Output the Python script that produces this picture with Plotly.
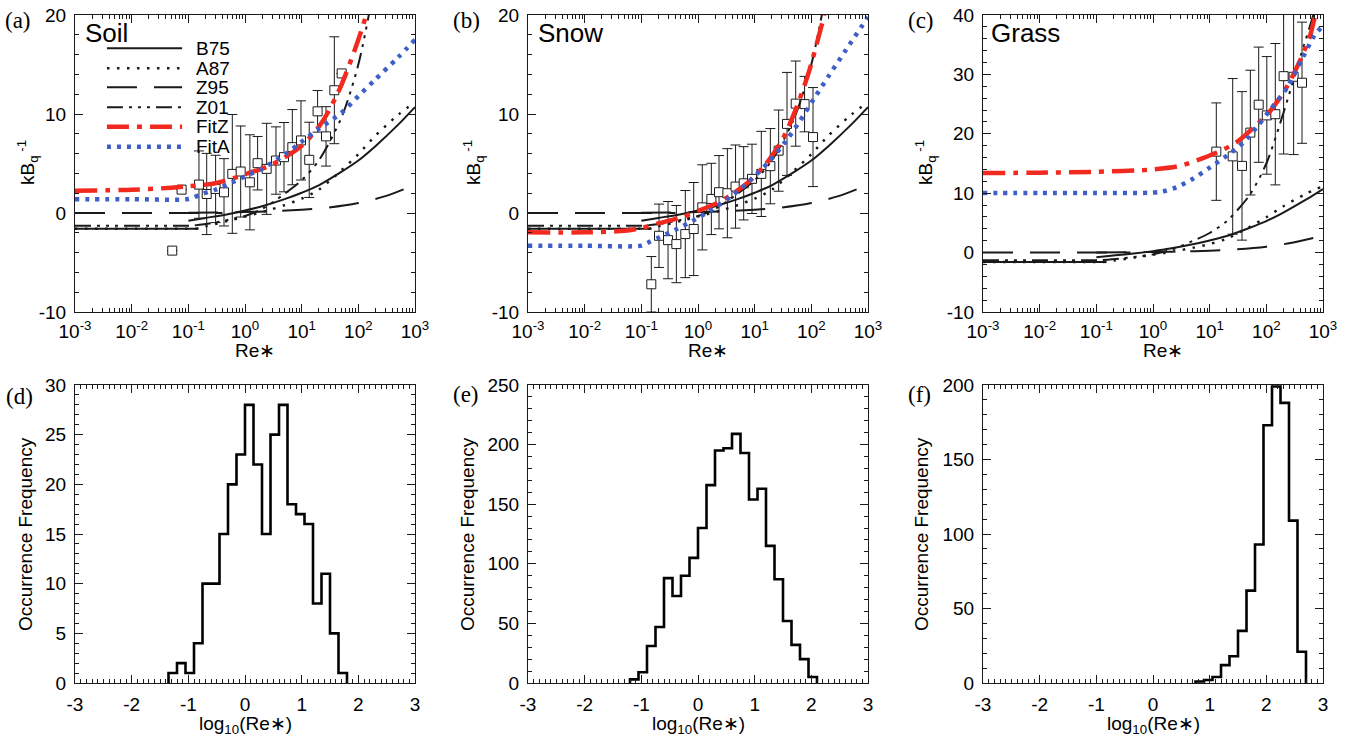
import numpy as np
import plotly.graph_objects as go

W, H = 1352, 737
FONT = "Liberation Sans, Arial, Helvetica, sans-serif"
SERIF = "Liberation Serif, Times New Roman, serif"
INK = "#1a1a1a"
RED = "#f2291f"
BLUE = "#3f5fc8"

# ---------------- model curves (independent of surface type) ----------------
# each model: smooth-regime branch + rough-regime branch, kB^-1 vs Re*
b75_smooth_re = [0.001, 0.15]
b75_smooth = [-1.6, -1.6]
b75_re = [0.1, 0.2, 0.5, 1, 2, 5, 10, 20, 50, 100, 200, 500, 1000]
b75 = [-0.78, -0.5, -0.12, 0.25, 0.68, 1.4, 2.05, 2.8, 4.15, 5.3, 6.75, 8.9, 10.7]

a87_smooth_re = [0.001, 0.135]
a87_smooth = [-1.6, -1.6]
a87_re = [0.135, 0.2, 0.5, 1, 2.5, 5, 10, 20, 50, 100, 200, 500, 1000]
a87 = [-1.6, -1.35, -0.8, -0.35, 0.25, 0.8, 1.45, 2.35, 4.3, 5.95, 7.8, 9.9, 11.2]

z95_smooth_re = [0.001, 0.4]
z95_smooth = [0.0, 0.0]
z95_re = [0.1, 0.3, 1, 3, 10, 30, 100, 300, 1000]
z95 = [0.03, 0.05, 0.1, 0.18, 0.33, 0.55, 1.0, 1.7, 2.85]

z01_smooth_re = [0.001, 0.13]
z01_smooth = [-1.3, -1.3]
z01_re = [0.13, 0.3, 0.6, 1, 2, 3.5, 5, 10, 20, 50, 100, 200, 400, 700, 1000]
z01 = [-1.25, -0.95, -0.6, -0.3, 0.4, 1.3, 1.95, 3.3, 5.3, 9.6, 15.0, 23.5, 33.0, 40.5, 46.0]

model_names = ["B75", "A87", "Z95", "Z01", "FitZ", "FitA"]

# ---------------- fitted curves per surface ----------------
fitz_soil_re = [0.001, 0.01, 0.05, 0.1, 0.3, 1, 3, 10, 20, 30, 50, 100, 150]
fitz_soil = [2.25, 2.35, 2.55, 2.7, 3.0, 3.9, 4.9, 6.8, 8.7, 10.3, 12.9, 17.5, 20.7]
fita_soil_re = [0.001, 0.01, 0.1, 0.17, 0.3, 0.6, 1, 2, 5, 10, 20, 50, 100, 200, 500, 1000]
fita_soil = [1.4, 1.4, 1.42, 1.9, 2.35, 3.1, 3.7, 4.5, 5.9, 7.2, 8.5, 10.1, 11.8, 13.5, 15.7, 17.5]

fitz_snow_re = [0.001, 0.01, 0.05, 0.1, 0.2, 0.5, 1, 2, 4, 8, 16, 32, 55, 90, 130, 170]
fitz_snow = [-1.95, -1.95, -1.8, -1.5, -1.05, -0.45, 0.2, 0.9, 1.9, 3.2, 5.0, 7.6, 10.7, 14.2, 17.5, 20.0]
fita_snow_re = [0.001, 0.01, 0.1, 0.13, 0.2, 0.4, 0.8, 1.6, 3.7, 8, 18, 36, 63, 110, 200, 400, 1000]
fita_snow = [-3.3, -3.3, -3.3, -3.0, -2.5, -1.7, -0.8, 0.2, 1.6, 3.2, 5.2, 7.3, 9.3, 11.5, 13.8, 16.4, 19.8]

fitz_grass_re = [0.001, 0.01, 0.1, 1, 3, 13, 30, 67, 116, 230, 400, 590, 700, 1000]
fitz_grass = [13.4, 13.45, 13.6, 14.0, 14.6, 16.8, 18.6, 21.5, 23.8, 27.9, 32.5, 36.5, 39.2, 44.0]
fita_grass_re = [0.001, 0.01, 0.1, 1, 1.5, 2.6, 5, 10, 20, 40, 70, 116, 230, 450, 700, 1000]
fita_grass = [10.05, 10.05, 10.05, 10.1, 10.3, 11.0, 12.4, 14.3, 16.3, 18.6, 21.3, 24.0, 27.7, 33.0, 36.5, 38.2]

# ---------------- bin-averaged observations (mean +/- std) ----------------
obs_soil_re = [0.052, 0.076, 0.154, 0.211, 0.303, 0.426, 0.597, 0.839, 1.22, 1.67,
               2.41, 3.52, 4.88, 6.84, 9.72, 13.6, 19.1, 26.9, 37.7, 50.8]
obs_soil = [-3.8, 2.36, 2.87, 1.92, 2.43, 2.09, 3.95, 4.19, 3.1, 5.03,
            4.46, 5.3, 5.64, 6.65, 7.33, 5.37, 10.27, 7.74, 12.4, 14.1]
obs_soil_sd = [0, 0, 3.4, 4.1, 3.4, 3.4, 6.0, 4.6, 4.8, 2.7,
               4.6, 3.4, 3.5, 3.8, 4.0, 3.8, 2.1, 3.0, 5.4, 0]

obs_snow_re = [0.15, 0.205, 0.296, 0.415, 0.597, 0.84, 1.19, 1.72, 2.35, 3.3,
               4.6, 6.4, 8.97, 13.1, 18.9, 26.5, 37.2, 53, 76, 107]
obs_snow = [-7.2, -2.3, -2.74, -3.14, -2.13, -1.62, 0.57, 1.42, 2.1, 2.0,
            2.67, 3.0, 3.45, 3.95, 4.73, 6.3, 9.0, 11.05, 11.0, 7.67]
obs_snow_sd = [2.8, 3.2, 3.9, 3.9, 4.4, 4.7, 4.3, 3.6, 3.7, 4.5,
               4.2, 3.7, 3.5, 4.3, 3.8, 4.1, 5.2, 4.3, 2.8, 5.0]

obs_grass_re = [13.1, 25.5, 37.2, 52.2, 73.3, 102, 144, 202, 303, 426]
obs_grass = [17.0, 16.2, 14.6, 20.2, 24.9, 23.1, 23.3, 29.7, 29.6, 28.6]
obs_grass_sd = [8.2, 13.1, 12.5, 10.5, 9.7, 9.9, 11.9, 13.1, 13.1, 10.2]

# ---------------- Re* histograms (bins of 0.15 in log10 Re*) ----------------
BIN_W = 0.15
hist_soil_start = -1.35
hist_soil = [1, 2, 1, 4, 10, 10, 15, 20, 23, 28, 22, 15, 25, 28, 18, 17, 16, 8, 11, 5, 1]
hist_snow_start = -1.2
hist_snow = [3, 9, 31, 47, 88, 73, 90, 105, 130, 166, 195, 197, 209, 193, 154, 163,
             115, 87, 52, 32, 20, 5]
hist_grass_start = 0.75
hist_grass = [1, 2, 4, 12, 18, 35, 62, 93, 173, 199, 188, 109, 21]

# ---------------- figure ----------------
fig = go.Figure()

black_styles = {
    "B75": dict(color=INK, width=2, dash="solid"),
    "A87": dict(color=INK, width=2.5, dash="2.5px,7.5px"),
    "Z95": dict(color=INK, width=2, dash="30px,17px"),
    "Z01": dict(color=INK, width=2, dash="16px,6px,3px,6px,3px,6px,3px,6px"),
}
fitz_style = dict(color=RED, width=4.5, dash="22px,8px,5px,8px")
fita_style = dict(color=BLUE, width=4.5, dash="4px,6px")

black_models = {
    "B75": (b75_smooth_re, b75_smooth, b75_re, b75),
    "A87": (a87_smooth_re, a87_smooth, a87_re, a87),
    "Z95": (z95_smooth_re, z95_smooth, z95_re, z95),
    "Z01": (z01_smooth_re, z01_smooth, z01_re, z01),
}

surfaces = [
    ("x", "y", obs_soil_re, obs_soil, obs_soil_sd, fitz_soil_re, fitz_soil, fita_soil_re, fita_soil),
    ("x2", "y2", obs_snow_re, obs_snow, obs_snow_sd, fitz_snow_re, fitz_snow, fita_snow_re, fita_snow),
    ("x3", "y3", obs_grass_re, obs_grass, obs_grass_sd, fitz_grass_re, fitz_grass, fita_grass_re, fita_grass),
]

for xa, ya, ore, ov, osd, zr, zv, ar, av in surfaces:
    fig.add_trace(go.Scatter(
        x=ore, y=ov, xaxis=xa, yaxis=ya, mode="markers",
        marker=dict(symbol="square", size=9, color="white", line=dict(color=INK, width=1)),
        error_y=dict(type="data", array=osd, visible=True, color=INK, thickness=1, width=5),
        hoverinfo="skip"))
    for name, (sr, sv, rr, rv) in black_models.items():
        st = black_styles[name]
        fig.add_trace(go.Scatter(x=sr, y=sv, xaxis=xa, yaxis=ya, mode="lines",
                                 line=dict(**st), name=name, hoverinfo="skip"))
        fig.add_trace(go.Scatter(x=rr, y=rv, xaxis=xa, yaxis=ya, mode="lines",
                                 line=dict(shape="spline", smoothing=0.8, **st),
                                 name=name, hoverinfo="skip"))
    fig.add_trace(go.Scatter(x=zr, y=zv, xaxis=xa, yaxis=ya, mode="lines",
                             line=dict(shape="spline", smoothing=0.8, **fitz_style),
                             name="FitZ", hoverinfo="skip"))
    fig.add_trace(go.Scatter(x=ar, y=av, xaxis=xa, yaxis=ya, mode="lines",
                             line=dict(shape="spline", smoothing=0.8, **fita_style),
                             name="FitA", hoverinfo="skip"))

hists = [("x4", "y4", hist_soil_start, hist_soil),
         ("x5", "y5", hist_snow_start, hist_snow),
         ("x6", "y6", hist_grass_start, hist_grass)]
for xa, ya, start, counts in hists:
    edges = np.round(start + BIN_W * np.arange(len(counts) + 1), 3)
    xs = np.concatenate([[edges[0]], edges[:-1], [edges[-1]]])
    ys = np.concatenate([[0], counts, [0]])
    fig.add_trace(go.Scatter(x=xs, y=ys, xaxis=xa, yaxis=ya, mode="lines",
                             line=dict(color="black", width=2.6, shape="hv"),
                             hoverinfo="skip"))

# ---------------- axes ----------------
def px(v):
    return v / W


def py(v):
    return 1 - v / H


cols = [(75, 415), (528, 868), (983, 1323)]
top_rows = (15, 312)
bot_rows = (385, 683)
TICK_SIZE = 19


def frame(**kw):
    d = dict(showline=True, linecolor=INK, linewidth=1, mirror="allticks",
             ticks="inside", ticklen=8, tickwidth=1, tickcolor=INK,
             showgrid=False, zeroline=False, fixedrange=True, automargin=False,
             tickfont=dict(family=FONT, size=TICK_SIZE, color="black"))
    d.update(kw)
    return d


def labels(vals):
    # plain hyphen-minus for negative tick labels
    return [str(v) for v in vals]


decades = [0.001, 0.01, 0.1, 1, 10, 100, 1000]
decade_text = ["10<sup>-3</sup>", "10<sup>-2</sup>", "10<sup>-1</sup>", "10<sup>0</sup>",
               "10<sup>1</sup>", "10<sup>2</sup>", "10<sup>3</sup>"]
log_minor = [m * d for d in decades[:-1] for m in range(2, 10)]

top_y_ticks = [[-10, 0, 10, 20], [-10, 0, 10, 20], [-10, 0, 10, 20, 30, 40]]
hist_x_ticks = [-3, -2, -1, 0, 1, 2, 3]
hist_y = [(30, 5, 1), (250, 50, 10), (200, 50, 10)]

layout_axes = {}
for i, (c0, c1) in enumerate(cols):
    n = "" if i == 0 else str(i + 1)
    dom_x = [px(c0), px(c1)]
    layout_axes["xaxis" + n] = frame(
        domain=dom_x, type="log", range=[-3, 3], anchor="y" + n,
        tickmode="array", tickvals=decades, ticktext=decade_text, ticklabelstandoff=2,
        minor=dict(tickmode="array", tickvals=log_minor, ticks="inside",
                   ticklen=4, tickwidth=1, tickcolor=INK, showgrid=False))
    yt = top_y_ticks[i]
    layout_axes["yaxis" + n] = frame(
        domain=[py(top_rows[1]), py(top_rows[0])], range=[yt[0], yt[-1]], anchor="x" + n,
        tickmode="array", tickvals=yt, ticktext=labels(yt), ticklabelstandoff=4,
        minor=dict(tick0=0, dtick=2, ticks="inside", ticklen=4, tickwidth=1,
                   tickcolor=INK, showgrid=False))
    m = str(i + 4)
    layout_axes["xaxis" + m] = frame(
        domain=dom_x, range=[-3, 3], anchor="y" + m,
        tickmode="array", tickvals=hist_x_ticks, ticktext=labels(hist_x_ticks),
        ticklabelstandoff=4,
        minor=dict(tick0=-3, dtick=0.1, ticks="inside", ticklen=4, tickwidth=1,
                   tickcolor=INK, showgrid=False))
    top, major, minor = hist_y[i]
    layout_axes["yaxis" + m] = frame(
        domain=[py(bot_rows[1]), py(bot_rows[0])], range=[0, top], anchor="x" + m,
        tickmode="linear", tick0=0, dtick=major, ticklabelstandoff=4,
        minor=dict(tick0=0, dtick=minor, ticks="inside", ticklen=4, tickwidth=1,
                   tickcolor=INK, showgrid=False))

# ---------------- text ----------------
ann = []


def text(t, x, y, size=19, family=FONT, xanchor="center", yanchor="middle", angle=0):
    ann.append(dict(text=t, x=x, y=y, xref="paper", yref="paper",
                    showarrow=False, xanchor=xanchor, yanchor=yanchor, textangle=angle,
                    font=dict(family=family, size=size, color="black")))


for lab, x, y in [("(a)", 3, 21), ("(b)", 451, 21), ("(c)", 906, 21),
                  ("(d)", 4, 396), ("(e)", 451, 394), ("(f)", 906, 394)]:
    text(lab, px(x), py(y), size=23, family=SERIF, xanchor="left")

for lab, x in [("Soil", 83), ("Snow", 536), ("Grass", 989)]:
    text(lab, px(x), py(33), size=26, xanchor="left")

for x in [27, 473, 925]:
    text("kB<sub>q</sub><sup> -1</sup>", px(x), py(163), size=19, angle=-90)
for x in [25, 467, 921]:
    text("Occurrence Frequency", px(x), py(534), size=19, angle=-90)
for c0, c1 in cols:
    text("Re\u2217", px((c0 + c1) / 2 + 10), py(350), size=19)
    text("log<sub>10</sub>(Re\u2217)", px((c0 + c1) / 2), py(725), size=19)

# legend drawn inside the soil panel
legend_rows = [0.888, 0.8205, 0.7566, 0.6892, 0.6239, 0.5566]
legend_styles = [black_styles["B75"], black_styles["A87"], black_styles["Z95"],
                 black_styles["Z01"], fitz_style, fita_style]
shapes = []
for name, yy, st in zip(model_names, legend_rows, legend_styles):
    shapes.append(dict(type="line", xref="x domain", yref="y domain",
                       x0=0.094, x1=0.315, y0=yy, y1=yy,
                       line=dict(color=st["color"], width=st["width"], dash=st["dash"])))
    ann.append(dict(text=name, x=0.35, y=yy, xref="x domain", yref="y domain",
                    showarrow=False, xanchor="left", yanchor="middle",
                    font=dict(family=FONT, size=19, color="black")))

fig.update_layout(
    template="none",
    width=W, height=H, margin=dict(l=0, r=0, t=0, b=0, autoexpand=False),
    paper_bgcolor="white", plot_bgcolor="white", showlegend=False,
    annotations=ann, shapes=shapes, **layout_axes)

fig.write_html("out.html")
